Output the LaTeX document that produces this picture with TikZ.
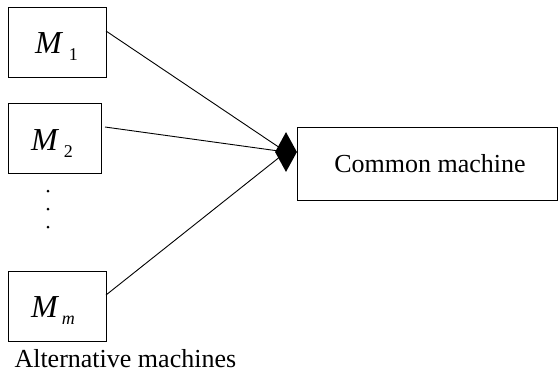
\documentclass[tikz,border=0pt]{standalone}
\usepackage{fontspec}
\setmainfont{Liberation Serif}
\newfontfamily\tnr{Liberation Serif}
\usetikzlibrary{shapes.geometric,calc}
\begin{document}
\begin{tikzpicture}[x=1bp,y=-1bp,
  box/.style={draw,line width=0.9bp,inner sep=0pt,anchor=north west},
  lab/.style={font=\tnr\fontsize{26bp}{30bp}\selectfont},
  mtext/.style={inner sep=0pt,anchor=base west},
  conn/.style={line width=0.9bp},
  dotmark/.style={circle,fill,inner sep=0pt,minimum size=3bp}]
\useasboundingbox (0,0) rectangle (558,379);
\newcommand{\Mlab}[2]{{\tnr\fontsize{32bp}{34bp}\selectfont\itshape M}\hspace{#2}\raisebox{-7bp}{\tnr\fontsize{18bp}{20bp}\selectfont #1}}
\node[box,minimum width=98bp,minimum height=70bp] (m1) at (8,7) {};
\node[mtext] at (35,53) (t1) {\Mlab{1}{7bp}};
\node[box,minimum width=93bp,minimum height=70bp] (m2) at (8,103) {};
\node[mtext] at (31,150) (t2) {\Mlab{2}{6bp}};
\node[box,minimum width=98bp,minimum height=70bp] (mm) at (8,271) {};
\node[mtext] at (31,317) (tm) {\Mlab{\itshape m}{4bp}};
\node[box,minimum width=260bp,minimum height=73bp] (cm) at (297,127) {};
\node[lab] at (430,164) (tc) {Common machine};
\node[lab,anchor=base west] at (11,367) (ta) {Alternative machines};
\node[dotmark] (d1) at (48,191) {};
\node[dotmark] (d2) at (48,209) {};
\node[dotmark] (d3) at (48,227) {};
\node[diamond,fill,inner sep=0pt,minimum width=22bp,minimum height=40bp] (j) at (286,152) {};
\coordinate (s1) at (106,31);
\coordinate (s2) at (105,127);
\coordinate (s3) at (106,295);
\draw[conn] (s1) -- (j.center);
\draw[conn] (s2) -- (j.center);
\draw[conn] (s3) -- (j.center);
\end{tikzpicture}
\end{document}
